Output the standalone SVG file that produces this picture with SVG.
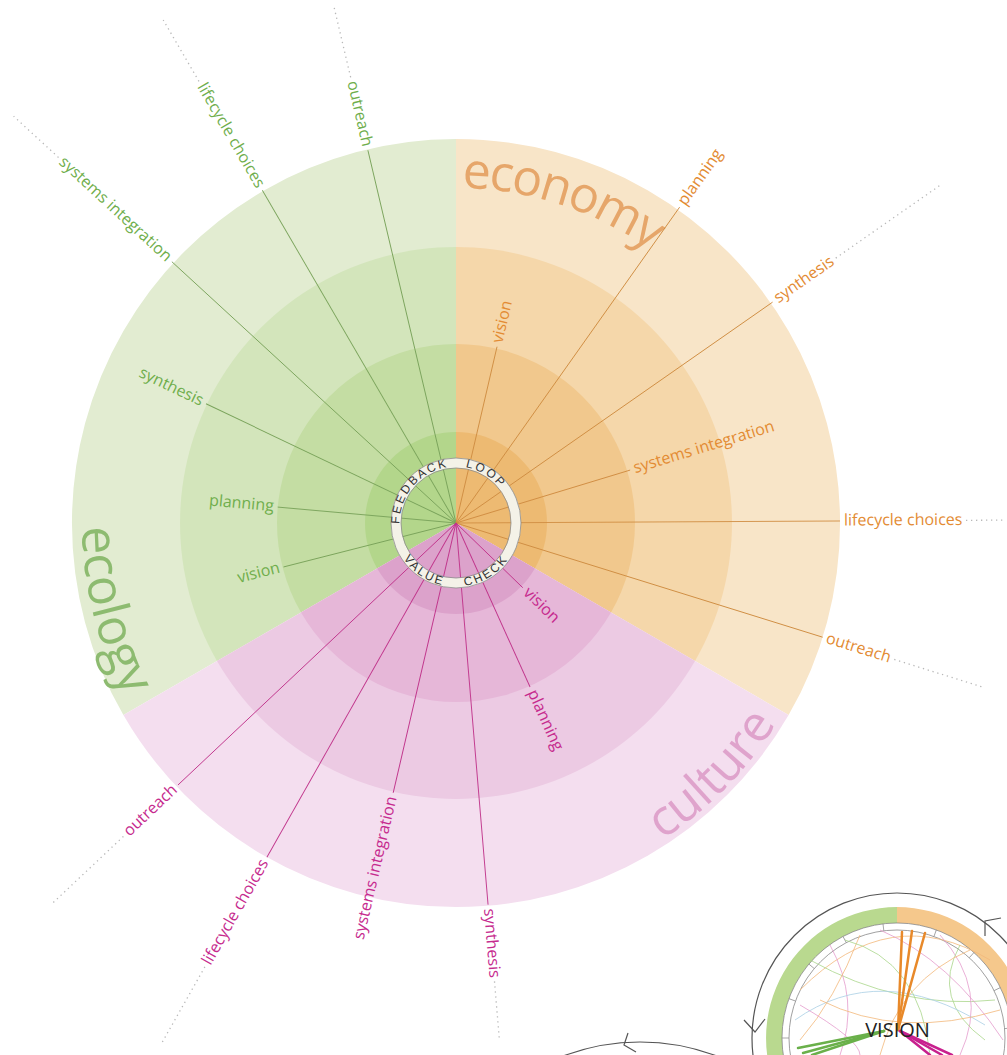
<svg xmlns="http://www.w3.org/2000/svg" width="1007" height="1055" viewBox="0 0 1007 1055">
<style>
text{font-family:"Open Sans","Liberation Sans",sans-serif}
.lbl{font-size:16px}
.g{fill:#6fae4c}
.o{fill:#e38b33}
.p{fill:#c62a8e}
.sg{stroke:#7aa35b;stroke-width:0.9}
.so{stroke:#d08e44;stroke-width:0.9}
.sp{stroke:#c0338a;stroke-width:0.9}
.dot{stroke:#b8b8b8;stroke-width:1.3;stroke-dasharray:1.3 3.7;fill:none}
.big{font-size:50px}
.rt{font-family:"Liberation Sans",sans-serif;font-size:12px;fill:#333;letter-spacing:2.2px}
.thin{fill:none;stroke-width:0.8}
.blk{fill:none;stroke:#555;stroke-width:1.2}
</style>
<defs>
<path id="pEconomy" d="M456,188 A335,335 0 0 1 791,523"/>
<path id="pEcology" d="M82,523 A374,374 0 0 0 132.1,710"/>
<path id="pCulture" d="M645,850.4 A378,378 0 0 0 811.2,652.3"/>
<path id="pTop" d="M399.5,523 A56.5,56.5 0 1 1 512.5,523 A56.5,56.5 0 1 1 399.5,523"/>
<path id="pBot" d="M392.5,523 A63.5,63.5 0 1 0 519.5,523 A63.5,63.5 0 1 0 392.5,523"/>
</defs>
<rect width="1007" height="1055" fill="#ffffff"/>

<g id="sector-ecology">
<path d="M456,523 L123.4,715 A384,384 0 0 1 456,139 Z" fill="#e2ecd1"/>
<path d="M456,523 L217,661 A276,276 0 0 1 456,247 Z" fill="#d3e5bb"/>
<path d="M456,523 L301,612.5 A179,179 0 0 1 456,344 Z" fill="#c4dda3"/>
<path d="M456,523 L377.2,568.5 A91,91 0 0 1 456,432 Z" fill="#b3d68b"/>
<text class="big" fill="#8dbb70"><textPath href="#pEcology" startOffset="4">ecology</textPath></text>
</g>
<g id="sector-economy">
<path d="M456,523 L456,139 A384,384 0 0 1 788.6,715 Z" fill="#f8e5c8"/>
<path d="M456,523 L456,247 A276,276 0 0 1 695,661 Z" fill="#f5d7aa"/>
<path d="M456,523 L456,344 A179,179 0 0 1 611,612.5 Z" fill="#f1c88d"/>
<path d="M456,523 L456,432 A91,91 0 0 1 534.8,568.5 Z" fill="#edba72"/>
<text class="big" fill="#e6a66a" letter-spacing="-2"><textPath href="#pEconomy" startOffset="6">economy</textPath></text>
</g>
<g id="sector-culture">
<path d="M456,523 L788.6,715 A384,384 0 0 1 123.4,715 Z" fill="#f4deef"/>
<path d="M456,523 L695,661 A276,276 0 0 1 217,661 Z" fill="#eccae3"/>
<path d="M456,523 L611,612.5 A179,179 0 0 1 301,612.5 Z" fill="#e6b7d8"/>
<path d="M456,523 L534.8,568.5 A91,91 0 0 1 377.2,568.5 Z" fill="#dca2cb"/>
<text class="big" fill="#dfa3cc"><textPath href="#pCulture" startOffset="20">culture</textPath></text>
</g>

<g id="connectors">
<g transform="translate(456,523)">
<line class="sg" x1="0" y1="0" x2="383" y2="0" transform="rotate(-103.3)"/>
<line class="sg" x1="0" y1="0" x2="385" y2="0" transform="rotate(-120.2)"/>
<line class="sg" x1="0" y1="0" x2="386" y2="0" transform="rotate(-137.4)"/>
<line class="sg" x1="0" y1="0" x2="277" y2="0" transform="rotate(-154.5)"/>
<line class="sg" x1="0" y1="0" x2="179" y2="0" transform="rotate(-174.9)"/>
<line class="sg" x1="0" y1="0" x2="178" y2="0" transform="rotate(165.7)"/>
<line class="so" x1="0" y1="0" x2="181" y2="0" transform="rotate(-76.9)"/>
<line class="so" x1="0" y1="0" x2="387" y2="0" transform="rotate(-54.7)"/>
<line class="so" x1="0" y1="0" x2="386" y2="0" transform="rotate(-34.9)"/>
<line class="so" x1="0" y1="0" x2="182" y2="0" transform="rotate(-16.9)"/>
<line class="so" x1="0" y1="0" x2="384" y2="0" transform="rotate(-0.3)"/>
<line class="so" x1="0" y1="0" x2="384" y2="0" transform="rotate(17.3)"/>
<line class="sp" x1="0" y1="0" x2="93" y2="0" transform="rotate(44.1)"/>
<line class="sp" x1="0" y1="0" x2="180" y2="0" transform="rotate(65.7)"/>
<line class="sp" x1="0" y1="0" x2="383" y2="0" transform="rotate(85.2)"/>
<line class="sp" x1="0" y1="0" x2="277" y2="0" transform="rotate(103.1)"/>
<line class="sp" x1="0" y1="0" x2="384" y2="0" transform="rotate(119.5)"/>
<line class="sp" x1="0" y1="0" x2="382" y2="0" transform="rotate(136.7)"/>
<line class="dot" x1="458" y1="0" x2="532" y2="0" transform="rotate(-103.3)"/>
<line class="dot" x1="511" y1="0" x2="582" y2="0" transform="rotate(-120.2)"/>
<line class="dot" x1="540" y1="0" x2="601" y2="0" transform="rotate(-137.4)"/>
<line class="dot" x1="463" y1="0" x2="590" y2="0" transform="rotate(-34.9)"/>
<line class="dot" x1="510" y1="0" x2="549" y2="0" transform="rotate(-0.3)"/>
<line class="dot" x1="459" y1="0" x2="551" y2="0" transform="rotate(17.3)"/>
<line class="dot" x1="460" y1="0" x2="519" y2="0" transform="rotate(85.2)"/>
<line class="dot" x1="510" y1="0" x2="598" y2="0" transform="rotate(119.5)"/>
<line class="dot" x1="457" y1="0" x2="555" y2="0" transform="rotate(136.7)"/>
</g>
</g>

<g id="feedback-loop">
<circle cx="456" cy="523" r="60" fill="none" stroke="#f4f2e8" stroke-width="10"/>
<circle cx="456" cy="523" r="65" fill="none" stroke="#8c8c8c" stroke-width="0.8"/>
<circle cx="456" cy="523" r="55" fill="none" stroke="#8c8c8c" stroke-width="0.8"/>
<text class="rt" text-anchor="middle"><textPath href="#pTop" startOffset="40.3">FEEDBACK</textPath></text>
<text class="rt" text-anchor="middle"><textPath href="#pTop" startOffset="119.4">LOOP</textPath></text>
<text class="rt" text-anchor="middle"><textPath href="#pBot" startOffset="62.3">VALUE</textPath></text>
<text class="rt" text-anchor="middle"><textPath href="#pBot" startOffset="134.9">CHECK</textPath></text>
</g>

<g id="ecology-labels">
<g id="eco-outreach"><text class="lbl g" transform="translate(456,523) rotate(76.7)" x="-387" y="4.5" text-anchor="end">outreach</text></g>
<g id="eco-lifecycle"><text class="lbl g" transform="translate(456,523) rotate(59.8)" x="-389" y="4.5" text-anchor="end">lifecycle choices</text></g>
<g id="eco-systems"><text class="lbl g" transform="translate(456,523) rotate(42.6)" x="-390" y="4.5" text-anchor="end">systems integration</text></g>
<g id="eco-synthesis"><text class="lbl g" transform="translate(456,523) rotate(25.5)" x="-281" y="4.5" text-anchor="end">synthesis</text></g>
<g id="eco-planning"><text class="lbl g" transform="translate(456,523) rotate(5.1)" x="-183" y="4.5" text-anchor="end">planning</text></g>
<g id="eco-vision"><text class="lbl g" transform="translate(456,523) rotate(-14.3)" x="-182" y="4.5" text-anchor="end">vision</text></g>
</g>
<g id="economy-labels">
<g id="econ-vision"><text class="lbl o" transform="translate(456,523) rotate(-76.9)" x="185" y="4.5">vision</text></g>
<g id="econ-planning"><text class="lbl o" transform="translate(456,523) rotate(-54.7)" x="391" y="4.5">planning</text></g>
<g id="econ-synthesis"><text class="lbl o" transform="translate(456,523) rotate(-34.9)" x="390" y="4.5">synthesis</text></g>
<g id="econ-systems"><text class="lbl o" transform="translate(456,523) rotate(-16.9)" x="186" y="4.5">systems integration</text></g>
<g id="econ-lifecycle"><text class="lbl o" transform="translate(456,523) rotate(-0.3)" x="388" y="4.5">lifecycle choices</text></g>
<g id="econ-outreach"><text class="lbl o" transform="translate(456,523) rotate(17.3)" x="388" y="4.5">outreach</text></g>
</g>
<g id="culture-labels">
<g id="cul-vision"><text class="lbl p" transform="translate(456,523) rotate(44.1)" x="97" y="4.5">vision</text></g>
<g id="cul-planning"><text class="lbl p" transform="translate(456,523) rotate(65.7)" x="184" y="4.5">planning</text></g>
<g id="cul-synthesis"><text class="lbl p" transform="translate(456,523) rotate(85.2)" x="387" y="4.5">synthesis</text></g>
<g id="cul-systems"><text class="lbl p" transform="translate(456,523) rotate(-76.9)" x="-281" y="4.5" text-anchor="end">systems integration</text></g>
<g id="cul-lifecycle"><text class="lbl p" transform="translate(456,523) rotate(-60.5)" x="-388" y="4.5" text-anchor="end">lifecycle choices</text></g>
<g id="cul-outreach"><text class="lbl p" transform="translate(456,523) rotate(-43.3)" x="-386" y="4.5" text-anchor="end">outreach</text></g>
</g>

<g id="mini-diagram">
<circle class="blk" cx="897" cy="1038" r="145"/>
<polyline class="blk" points="744,1020 755,1032 765,1019"/>
<polyline class="blk" points="985,936 985,921 1001,918"/>
<path d="M897,907 A131,131 0 0 0 783.6,1103.5 L797.4,1095.5 A115,115 0 0 1 897,923 Z" fill="#b9d98f"/>
<path d="M897,907 A131,131 0 0 1 1010.4,1103.5 L996.6,1095.5 A115,115 0 0 0 897,923 Z" fill="#f5c88c"/>
<circle cx="897" cy="1038" r="115" fill="#ffffff" stroke="#777" stroke-width="0.7"/>
<circle cx="897" cy="1038" r="108" fill="#ffffff" stroke="#777" stroke-width="0.7"/>
<g stroke="#888" stroke-width="0.7" transform="translate(897,1038)">
<line x1="108" y1="0" x2="115" y2="0" transform="rotate(-70)"/>
<line x1="108" y1="0" x2="115" y2="0" transform="rotate(-97)"/>
<line x1="108" y1="0" x2="115" y2="0" transform="rotate(-118)"/>
<line x1="108" y1="0" x2="115" y2="0" transform="rotate(-140)"/>
<line x1="108" y1="0" x2="115" y2="0" transform="rotate(-160)"/>
<line x1="108" y1="0" x2="115" y2="0" transform="rotate(-180)"/>
<line x1="108" y1="0" x2="115" y2="0" transform="rotate(-48)"/>
<line x1="108" y1="0" x2="115" y2="0" transform="rotate(-26)"/>
<line x1="108" y1="0" x2="115" y2="0" transform="rotate(-5)"/>
</g>
<g class="thin">
<path d="M800,990 Q890,900 990,960" stroke="#f3b87a"/>
<path d="M810,960 Q900,1010 995,1000" stroke="#a9d58a"/>
<path d="M830,945 Q860,1000 840,1055" stroke="#e49ccd"/>
<path d="M860,935 Q835,1000 800,1040" stroke="#f3b87a"/>
<path d="M940,935 Q990,990 960,1055" stroke="#e49ccd"/>
<path d="M960,945 Q930,1000 985,1040" stroke="#a9d58a"/>
<path d="M795,1020 Q880,960 985,1025" stroke="#a9cfe4"/>
<path d="M820,1000 Q900,1040 1000,1010" stroke="#f3b87a"/>
<path d="M880,930 Q950,960 1003,1040" stroke="#e49ccd"/>
<path d="M845,940 Q920,960 930,1055" stroke="#a9d58a"/>
<path d="M970,950 Q900,980 880,1055" stroke="#f3b87a"/>
<path d="M800,1005 Q860,1040 860,1055" stroke="#e49ccd"/>
</g>
<g stroke-width="2.5" stroke-linecap="round">
<line x1="898" y1="1030" x2="902" y2="932" stroke="#e8892a"/>
<line x1="898" y1="1030" x2="912" y2="931" stroke="#e8892a"/>
<line x1="898" y1="1030" x2="925" y2="933" stroke="#e8892a"/>
<line x1="884" y1="1031" x2="803" y2="1053" stroke="#6ab04a"/>
<line x1="884" y1="1031" x2="812" y2="1055" stroke="#6ab04a"/>
<line x1="884" y1="1031" x2="798" y2="1048" stroke="#6ab04a"/>
<line x1="900" y1="1031" x2="942" y2="1055" stroke="#c8208e"/>
<line x1="900" y1="1031" x2="930" y2="1055" stroke="#c8208e"/>
<line x1="900" y1="1031" x2="952" y2="1055" stroke="#c8208e"/>
</g>
<text x="897.5" y="1037" text-anchor="middle" font-size="20" fill="#222">VISION</text>
</g>

<g id="mini-diagram-2">
<circle class="blk" cx="640" cy="1260" r="218"/>
<polyline class="blk" points="628,1033 624,1045 636,1052"/>
</g>
</svg>
